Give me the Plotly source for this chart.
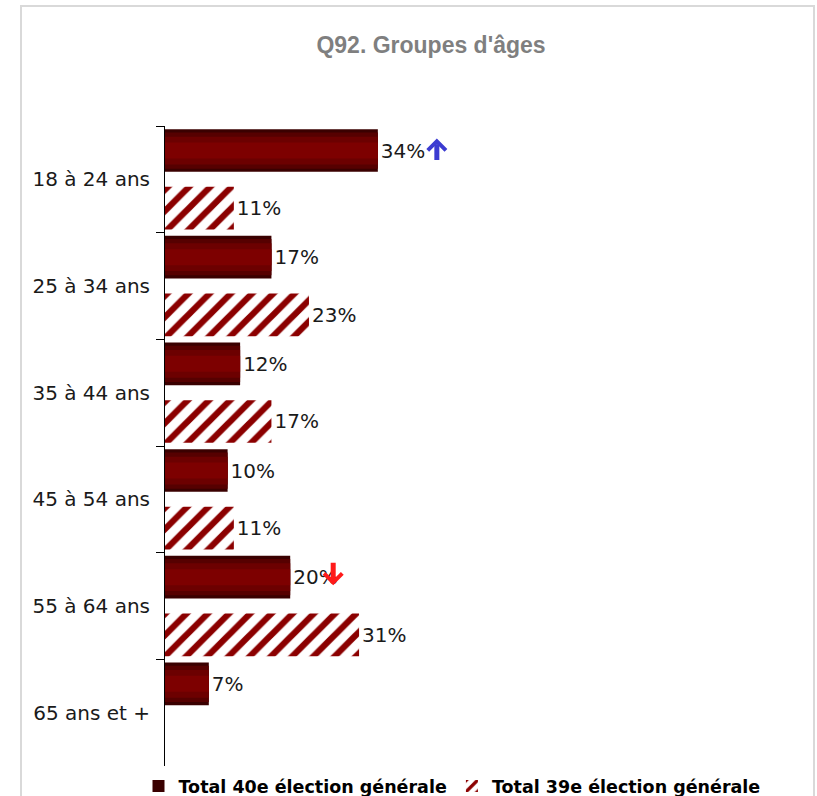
import plotly.graph_objects as go

categories = ["18 à 24 ans", "25 à 34 ans", "35 à 44 ans", "45 à 54 ans", "55 à 64 ans", "65 ans et +"]
total_40e = [34, 17, 12, 10, 20, 7]
total_39e = [11, 23, 17, 11, 31, None]
series_names = ["Total 40e élection générale", "Total 39e élection générale"]

# significance arrows: (category index, direction)
arrows = [(0, "up"), (4, "down")]

LABEL_FONT = "DejaVu Sans"
PLOT_L, PLOT_W = 165, 647
PX_PER_PCT = 6.26

fig = go.Figure()

# solid series, layered for a vertical gradient look
shades = [("#3a0000", 0.40), ("#560000", 0.34), ("#6c0000", 0.26), ("#7d0000", 0.15)]
for i, (col, w) in enumerate(shades):
    fig.add_trace(
        go.Bar(
            y=categories,
            x=total_40e,
            orientation="h",
            name=series_names[0],
            marker=dict(color=col, line=dict(width=0)),
            width=w,
            offset=-0.27 - w / 2,
            showlegend=(i == 0),
            text=[f"{v}%" for v in total_40e] if i == 0 else None,
            textposition="outside" if i == 0 else "none",
            textfont=dict(family=LABEL_FONT, size=20, color="#1a1a1a"),
            hoverinfo="skip" if i else None,
        )
    )

fig.add_trace(
    go.Bar(
        y=categories,
        x=total_39e,
        orientation="h",
        name=series_names[1],
        marker=dict(
            color="white",
            line=dict(width=0),
            pattern=dict(shape="/", fgcolor="#8b0000", bgcolor="white",
                         fgopacity=1, size=15, solidity=0.42),
        ),
        width=0.40,
        offset=0.07,
        text=[f"{v}%" if v is not None else "" for v in total_39e],
        textposition="outside",
        textfont=dict(family=LABEL_FONT, size=20, color="#1a1a1a"),
    )
)

for idx, direction in arrows:
    up = direction == "up"
    fig.add_annotation(
        x=total_40e[idx],
        y=idx - 0.27,
        xref="x",
        yref="y",
        xshift=59 if up else 43,
        yshift=12 if up else -8,
        ax=0,
        ay=23 if up else -24,
        text="",
        showarrow=True,
        arrowhead=4,
        arrowsize=0.7,
        arrowwidth=5,
        arrowcolor="#3b3bd1" if up else "#ff1a1a",
    )

# chart frame
fig.add_shape(
    type="rect",
    xref="paper",
    yref="paper",
    x0=(21 - PLOT_L) / PLOT_W,
    x1=(814 - PLOT_L) / PLOT_W,
    y0=-0.2,
    y1=(766 - 6) / 640,
    line=dict(color="#d9d9d9", width=2),
    layer="below",
)

fig.update_layout(
    width=817,
    height=796,
    margin=dict(l=PLOT_L, r=817 - PLOT_L - PLOT_W, t=126, b=30, autoexpand=False),
    paper_bgcolor="white",
    plot_bgcolor="white",
    barmode="overlay",
    title=dict(
        text="Q92. Groupes d'âges",
        x=431 / 817,
        xanchor="center",
        y=1 - 45 / 796,
        yanchor="middle",
        font=dict(family="Liberation Sans", size=23, color="#7f7f7f", weight="bold"),
    ),
    xaxis=dict(visible=False, range=[0, PLOT_W / PX_PER_PCT]),
    yaxis=dict(
        type="category",
        autorange="reversed",
        showline=True,
        linecolor="black",
        linewidth=1,
        ticks="outside",
        ticklen=8,
        tickcolor="black",
        tickson="boundaries",
        showgrid=False,
        tickfont=dict(family=LABEL_FONT, size=20, color="#1a1a1a"),
        ticklabelstandoff=10,
    ),
    legend=dict(
        orientation="h",
        xref="container",
        yref="container",
        x=452 / 817,
        xanchor="center",
        y=1 - 768 / 796,
        yanchor="top",
        font=dict(family=LABEL_FONT, size=17.5, color="black", weight="bold"),
        itemwidth=30,
        tracegroupgap=0,
    ),
    showlegend=True,
)

fig.write_html(
    "out.html",
    config={"displayModeBar": False},
    post_script="document.body.style.margin='0';",
)
